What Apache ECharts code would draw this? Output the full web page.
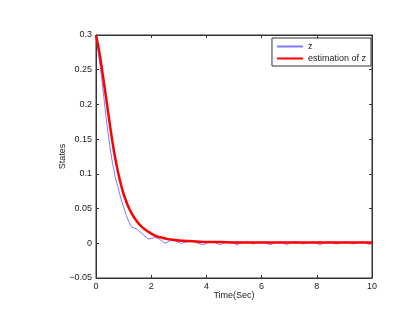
<!DOCTYPE html>
<html><head><meta charset="utf-8">
<script src="https://cdn.jsdelivr.net/npm/echarts@6/dist/echarts.min.js"></script>
<style>html,body{margin:0;padding:0;background:#fff}#c{width:402px;height:309px}</style>
</head><body><div id="c"></div>
<script>
var timeZ = [0,0.1,0.2,0.3,0.4,0.5,0.6,0.7,0.8,0.9,1.0,1.1,1.2,1.3,1.4,1.5,1.6,1.7,1.8,1.9,2.0,2.1,2.2,2.3,2.4,2.5,2.6,2.7,2.8,2.9,3.0,3.1,3.3,3.5,3.7,3.9,4.1,4.3,4.5,4.7,4.9,5.1,5.3,5.5,5.7,5.9,6.1,6.3,6.5,6.7,6.9,7.1,7.3,7.5,7.7,7.9,8.1,8.3,8.5,8.7,8.9,9.1,9.3,9.5,9.7,9.9,10];
var zVals = [0.3,0.27,0.24,0.205,0.17,0.14,0.115,0.095,0.08,0.065,0.052,0.04,0.03,0.023,0.022,0.02,0.016,0.013,0.009,0.006,0.007,0.008,0.008,0.006,0.003,0.0,0.002,0.004,0.004,0.003,0.001,0.0,0.002,0.003,0.0,-0.002,0.002,0.001,-0.002,0.001,0.002,-0.002,0.001,0.002,-0.001,0.002,0.001,-0.002,0.001,0.002,-0.002,0.002,0.002,-0.001,0.001,0.002,-0.002,0.001,0.002,-0.001,0.001,0.002,-0.001,0.001,0.002,-0.002,0.001];
var timeE = [0,0.1,0.2,0.3,0.4,0.5,0.6,0.7,0.8,0.9,1.0,1.2,1.4,1.6,1.8,2.0,2.2,2.4,2.6,2.8,3.0,3.5,4.0,4.5,5.0,5.5,6.0,6.5,7.0,7.5,8.0,8.5,9.0,9.5,10];
var estVals = [0.3,0.28,0.255,0.228,0.2,0.172,0.145,0.122,0.102,0.085,0.071,0.05,0.036,0.026,0.019,0.014,0.01,0.008,0.006,0.005,0.004,0.003,0.002,0.002,0.001,0.001,0.001,0.001,0.001,0.001,0.001,0.001,0.001,0.001,0.001];
var xTicks = {min:0,max:10,interval:2};
var yTicks = {min:-0.05,max:0.3,interval:0.05};

function pairs(t,v){return t.map(function(x,i){return [x,v[i]];});}
var font = 'Liberation Sans, Arial, sans-serif';
var axColor = '#333';
var chart = echarts.init(document.getElementById('c'),null,{renderer:'canvas'});
chart.setOption({
  animation:false,
  backgroundColor:'#fff',
  grid:{left:96,right:30,top:35,bottom:31,show:true,borderColor:axColor,borderWidth:1,backgroundColor:'#fff'},
  legend:{
    orient:'vertical',right:31,top:38,
    backgroundColor:'#fff',borderColor:'#333',borderWidth:1,borderRadius:0,
    padding:[4,5,3,4],itemGap:3,itemWidth:26,itemHeight:8,
    itemStyle:{opacity:0,borderWidth:0},
    textStyle:{fontFamily:font,fontSize:9,color:'#222'},
    data:['z','estimation of z']
  },
  xAxis:[{
    type:'value',min:xTicks.min,max:xTicks.max,interval:xTicks.interval,
    name:'Time(Sec)',nameLocation:'middle',nameGap:13,nameMoveOverlap:false,
    nameTextStyle:{fontFamily:font,fontSize:9,color:'#222'},
    axisLine:{show:true,onZero:false,lineStyle:{color:axColor}},
    axisTick:{show:true,inside:true,length:3,lineStyle:{color:axColor}},
    axisLabel:{fontFamily:font,fontSize:9,color:'#222',margin:4},
    splitLine:{show:false}
  },{
    type:'value',position:'top',min:xTicks.min,max:xTicks.max,interval:xTicks.interval,
    axisLine:{show:true,onZero:false,lineStyle:{color:axColor}},
    axisTick:{show:true,inside:true,length:3,lineStyle:{color:axColor}},
    axisLabel:{show:false},splitLine:{show:false}
  }],
  yAxis:[{
    type:'value',min:yTicks.min,max:yTicks.max,interval:yTicks.interval,
    name:'States',nameLocation:'middle',nameGap:29,nameRotate:90,nameMoveOverlap:false,
    nameTextStyle:{fontFamily:font,fontSize:9,color:'#222'},
    axisLine:{show:true,onZero:false,lineStyle:{color:axColor}},
    axisTick:{show:true,inside:true,length:3,lineStyle:{color:axColor}},
    axisLabel:{fontFamily:font,fontSize:9,color:'#222',margin:4,
      formatter:function(v){var s=String(Math.round(v*100)/100);return s.replace('-','\u2212');}},
    splitLine:{show:false}
  },{
    type:'value',position:'right',min:yTicks.min,max:yTicks.max,interval:yTicks.interval,
    axisLine:{show:true,onZero:false,lineStyle:{color:axColor}},
    axisTick:{show:true,inside:true,length:3,lineStyle:{color:axColor}},
    axisLabel:{show:false},splitLine:{show:false}
  }],
  series:[{
    name:'z',type:'line',data:pairs(timeZ,zVals),symbol:'none',smooth:false,
    lineStyle:{color:'#7b7bff',width:1},itemStyle:{color:'#7b7bff'}
  },{
    name:'estimation of z',type:'line',data:pairs(timeE,estVals),symbol:'none',smooth:0.3,
    lineStyle:{color:'#ff0000',width:2.5},itemStyle:{color:'#ff0000'}
  }]
});
</script></body></html>
